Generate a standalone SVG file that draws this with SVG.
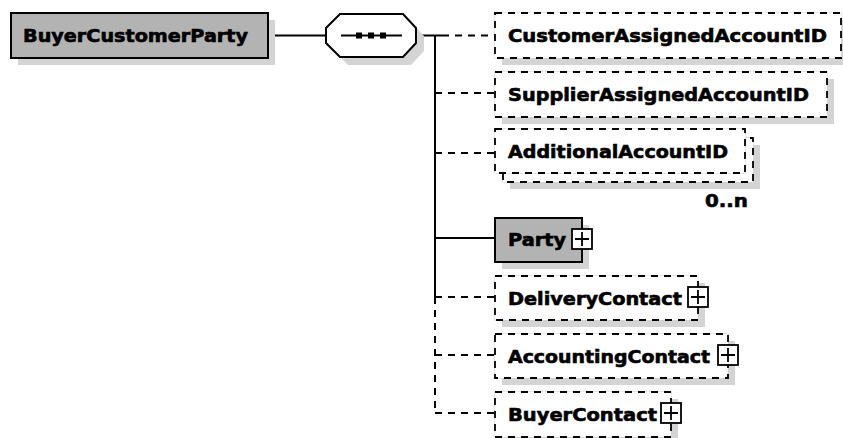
<svg xmlns="http://www.w3.org/2000/svg" width="843" height="438" viewBox="0 0 843 438">
<style>
.sh{fill:#d4d4d4}
.req{fill:#b3b3b3;stroke:#000;stroke-width:2}
.opt{fill:#fff;stroke:#000;stroke-width:1.8;stroke-dasharray:7 6}
.optbg{fill:#fff;stroke:#cfcfcf;stroke-width:1}
.t{font-family:"DejaVu Sans","Liberation Sans",sans-serif;font-weight:bold;font-size:17.5px;fill:#000;stroke:#000;stroke-width:0.6}
.ln{stroke:#000;stroke-width:2;fill:none}
.dl{stroke:#000;stroke-width:2;stroke-dasharray:7 6;fill:none}
</style>
<defs>
<g id="plus">
<rect x="-10" y="-10" width="20" height="20" fill="#fff" stroke="#000" stroke-width="1.8"/>
<path d="M-7 0H7M0-7V7" stroke="#000" stroke-width="1.8"/>
</g>
</defs>
<rect width="843" height="438" fill="#fff"/>

<g id="connectors">
<path class="ln" d="M268 35.5H326"/>
<path class="ln" d="M416 35.5H442"/>
<path class="ln" d="M435 35.5V297"/>
<path class="dl" d="M435 297V413"/>
<path class="dl" d="M442 35.5H495"/>
<path class="dl" d="M435 93H495"/>
<path class="dl" d="M435 153H495"/>
<path class="ln" d="M435 238H495"/>
<path class="dl" d="M435 297H495"/>
<path class="dl" d="M435 355H495"/>
<path class="dl" d="M435 413H495"/>
</g>

<g id="BuyerCustomerParty">
<rect class="sh" x="18" y="20" width="257" height="45"/>
<rect class="req" x="11" y="13" width="257" height="45"/>
<text class="t" x="23" y="42" textLength="225" lengthAdjust="spacingAndGlyphs">BuyerCustomerParty</text>
</g>

<g id="sequence">
<polygon class="sh" points="334,36 348,22 411,22 424,36 424,51 411,65 348,65 334,51"/>
<polygon points="326,28 340,14 403,14 416,28 416,43 403,57 340,57 326,43" fill="#fff" stroke="#000" stroke-width="2"/>
<path class="ln" d="M341 35.5H402"/>
<rect x="356" y="32.5" width="6" height="6"/>
<rect x="368" y="32.5" width="6" height="6"/>
<rect x="380" y="32.5" width="6" height="6"/>
</g>

<g id="CustomerAssignedAccountID">
<rect class="sh" x="502" y="20" width="346" height="45"/>
<rect class="optbg" x="495" y="13" width="346" height="45"/>
<rect class="opt" x="495" y="13" width="346" height="45"/>
<text class="t" x="508" y="42" textLength="319" lengthAdjust="spacingAndGlyphs">CustomerAssignedAccountID</text>
</g>

<g id="SupplierAssignedAccountID">
<rect class="sh" x="502" y="79" width="332" height="45"/>
<rect class="optbg" x="495" y="72" width="332" height="45"/>
<rect class="opt" x="495" y="72" width="332" height="45"/>
<text class="t" x="508" y="100.5" textLength="301" lengthAdjust="spacingAndGlyphs">SupplierAssignedAccountID</text>
</g>

<g id="AdditionalAccountID">
<rect class="sh" x="510" y="145" width="250" height="44"/>
<rect class="optbg" x="503" y="138" width="250" height="44"/>
<rect class="opt" x="503" y="138" width="250" height="44"/>
<rect class="optbg" x="495" y="129" width="250" height="44"/>
<rect class="opt" x="495" y="129" width="250" height="44"/>
<text class="t" x="508" y="157.5" textLength="220" lengthAdjust="spacingAndGlyphs">AdditionalAccountID</text>
<text class="t" x="705" y="207" font-size="16" textLength="43" lengthAdjust="spacingAndGlyphs">0..n</text>
</g>

<g id="Party">
<rect class="sh" x="502" y="225" width="87" height="44"/>
<rect class="req" x="495" y="218" width="87" height="44"/>
<text class="t" x="508" y="246" textLength="58" lengthAdjust="spacingAndGlyphs">Party</text>
<use href="#plus" x="582" y="239"/>
</g>

<g id="DeliveryContact">
<rect class="sh" x="502" y="283" width="203" height="44"/>
<rect class="optbg" x="495" y="276" width="203" height="44"/>
<rect class="opt" x="495" y="276" width="203" height="44"/>
<text class="t" x="508" y="304.5" textLength="174" lengthAdjust="spacingAndGlyphs">DeliveryContact</text>
<use href="#plus" x="698" y="297"/>
</g>

<g id="AccountingContact">
<rect class="sh" x="502" y="341" width="233" height="44"/>
<rect class="optbg" x="495" y="334" width="233" height="44"/>
<rect class="opt" x="495" y="334" width="233" height="44"/>
<text class="t" x="508" y="362.5" textLength="202" lengthAdjust="spacingAndGlyphs">AccountingContact</text>
<use href="#plus" x="728" y="355"/>
</g>

<g id="BuyerContact">
<rect class="sh" x="502" y="399" width="176" height="45"/>
<rect class="optbg" x="495" y="392" width="176" height="45"/>
<rect class="opt" x="495" y="392" width="176" height="45"/>
<text class="t" x="508" y="420.5" textLength="149" lengthAdjust="spacingAndGlyphs">BuyerContact</text>
<use href="#plus" x="671" y="413"/>
</g>
</svg>
